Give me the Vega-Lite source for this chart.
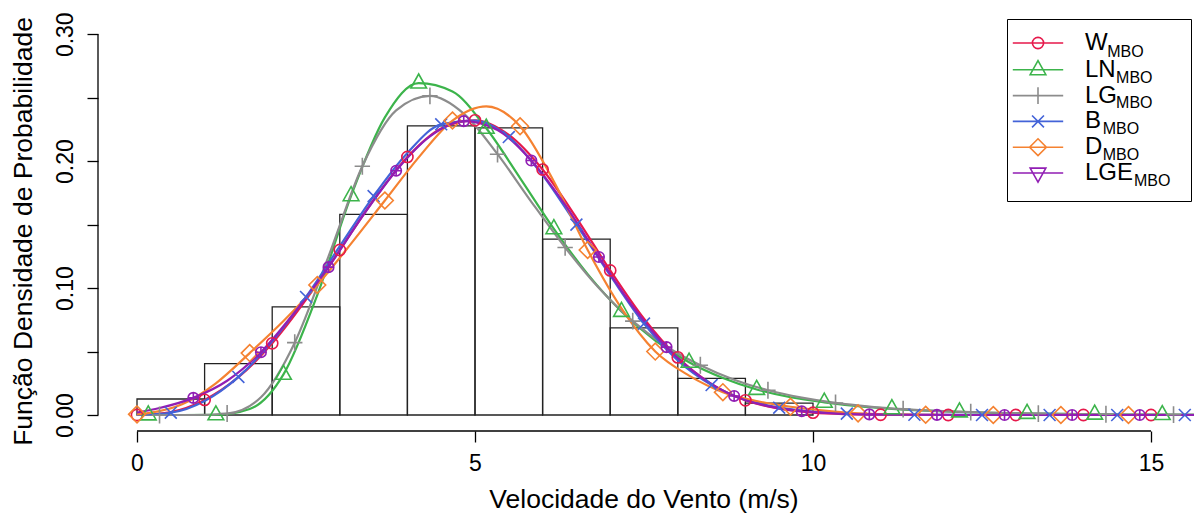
{
  "$schema": "https://vega.github.io/schema/vega-lite/v6.json",
  "width": 1096,
  "height": 412,
  "autosize": {"type": "none"},
  "padding": {"left": 98, "top": 19, "right": 0, "bottom": 88},
  "background": "white",
  "config": {
    "view": {"stroke": null},
    "font": "Liberation Sans",
    "axis": {"labelFont": "Liberation Sans", "titleFont": "Liberation Sans"},
    "legend": {"labelFont": "Liberation Sans", "titleFont": "Liberation Sans"}
  },
  "datasets": {
    "histograma": [
      {"de": 0, "ate": 1, "densidade": 0.0126},
      {"de": 1, "ate": 2, "densidade": 0.0405},
      {"de": 2, "ate": 3, "densidade": 0.0852},
      {"de": 3, "ate": 4, "densidade": 0.158},
      {"de": 4, "ate": 5, "densidade": 0.2278},
      {"de": 5, "ate": 6, "densidade": 0.2263},
      {"de": 6, "ate": 7, "densidade": 0.1386},
      {"de": 7, "ate": 8, "densidade": 0.0687},
      {"de": 8, "ate": 9, "densidade": 0.0289},
      {"de": 9, "ate": 10, "densidade": 0.0093}
    ],
    "curvas": [
      {"serie": "W", "x": 0, "y": 0}, {"serie": "W", "x": 0.5, "y": 0.0024}, {"serie": "W", "x": 1, "y": 0.0119}, {"serie": "W", "x": 1.5, "y": 0.0298}, {"serie": "W", "x": 2, "y": 0.0565}, {"serie": "W", "x": 2.5, "y": 0.0909}, {"serie": "W", "x": 3, "y": 0.13}, {"serie": "W", "x": 3.5, "y": 0.1694}, {"serie": "W", "x": 4, "y": 0.2033}, {"serie": "W", "x": 4.5, "y": 0.2258}, {"serie": "W", "x": 5, "y": 0.2322}, {"serie": "W", "x": 5.5, "y": 0.2207}, {"serie": "W", "x": 6, "y": 0.1934}, {"serie": "W", "x": 6.5, "y": 0.1554}, {"serie": "W", "x": 7, "y": 0.1139}, {"serie": "W", "x": 7.5, "y": 0.0758}, {"serie": "W", "x": 8, "y": 0.0454}, {"serie": "W", "x": 8.5, "y": 0.0243}, {"serie": "W", "x": 9, "y": 0.0116}, {"serie": "W", "x": 9.5, "y": 0.0049}, {"serie": "W", "x": 10, "y": 0.0018}, {"serie": "W", "x": 10.5, "y": 0.0006}, {"serie": "W", "x": 11, "y": 0.0002}, {"serie": "W", "x": 11.5, "y": 0}, {"serie": "W", "x": 12, "y": 0}, {"serie": "W", "x": 16, "y": 0},
      {"serie": "LN", "x": 0, "y": 0}, {"serie": "LN", "x": 0.1667, "y": 0}, {"serie": "LN", "x": 0.6667, "y": 0}, {"serie": "LN", "x": 1.1667, "y": 0.0001}, {"serie": "LN", "x": 1.6667, "y": 0.0047}, {"serie": "LN", "x": 2.1667, "y": 0.032}, {"serie": "LN", "x": 2.6667, "y": 0.0945}, {"serie": "LN", "x": 3.1667, "y": 0.1727}, {"serie": "LN", "x": 3.6667, "y": 0.2345}, {"serie": "LN", "x": 4.1667, "y": 0.2615}, {"serie": "LN", "x": 4.6667, "y": 0.2549}, {"serie": "LN", "x": 5.1667, "y": 0.2259}, {"serie": "LN", "x": 5.6667, "y": 0.1867}, {"serie": "LN", "x": 6.1667, "y": 0.1467}, {"serie": "LN", "x": 6.6667, "y": 0.111}, {"serie": "LN", "x": 7.1667, "y": 0.0816}, {"serie": "LN", "x": 7.6667, "y": 0.0587}, {"serie": "LN", "x": 8.1667, "y": 0.0415}, {"serie": "LN", "x": 8.6667, "y": 0.0291}, {"serie": "LN", "x": 9.1667, "y": 0.0201}, {"serie": "LN", "x": 9.6667, "y": 0.014}, {"serie": "LN", "x": 10.1667, "y": 0.01}, {"serie": "LN", "x": 10.6667, "y": 0.007}, {"serie": "LN", "x": 11.1667, "y": 0.0049}, {"serie": "LN", "x": 11.6667, "y": 0.0034}, {"serie": "LN", "x": 12.1667, "y": 0.0024}, {"serie": "LN", "x": 12.6667, "y": 0.0017}, {"serie": "LN", "x": 13.1667, "y": 0.0012}, {"serie": "LN", "x": 13.6667, "y": 0.0009}, {"serie": "LN", "x": 14.1667, "y": 0.0006}, {"serie": "LN", "x": 14.6667, "y": 0.0004}, {"serie": "LN", "x": 15.1667, "y": 0.0003}, {"serie": "LN", "x": 15.6667, "y": 0.0002}, {"serie": "LN", "x": 16.1667, "y": 0.0001},
      {"serie": "LG", "x": 0, "y": 0}, {"serie": "LG", "x": 0.3333, "y": 0}, {"serie": "LG", "x": 0.8333, "y": 0}, {"serie": "LG", "x": 1.3333, "y": 0.0012}, {"serie": "LG", "x": 1.8333, "y": 0.014}, {"serie": "LG", "x": 2.3333, "y": 0.057}, {"serie": "LG", "x": 2.8333, "y": 0.125}, {"serie": "LG", "x": 3.3333, "y": 0.196}, {"serie": "LG", "x": 3.8333, "y": 0.24}, {"serie": "LG", "x": 4.3333, "y": 0.2515}, {"serie": "LG", "x": 4.8333, "y": 0.2375}, {"serie": "LG", "x": 5.3333, "y": 0.2055}, {"serie": "LG", "x": 5.8333, "y": 0.168}, {"serie": "LG", "x": 6.3333, "y": 0.132}, {"serie": "LG", "x": 6.8333, "y": 0.1}, {"serie": "LG", "x": 7.3333, "y": 0.074}, {"serie": "LG", "x": 7.8333, "y": 0.054}, {"serie": "LG", "x": 8.3333, "y": 0.0392}, {"serie": "LG", "x": 8.8333, "y": 0.0278}, {"serie": "LG", "x": 9.3333, "y": 0.0195}, {"serie": "LG", "x": 9.8333, "y": 0.0137}, {"serie": "LG", "x": 10.3333, "y": 0.0095}, {"serie": "LG", "x": 10.8333, "y": 0.0066}, {"serie": "LG", "x": 11.3333, "y": 0.0046}, {"serie": "LG", "x": 11.8333, "y": 0.0032}, {"serie": "LG", "x": 12.3333, "y": 0.0023}, {"serie": "LG", "x": 12.8333, "y": 0.0016}, {"serie": "LG", "x": 13.3333, "y": 0.0011}, {"serie": "LG", "x": 13.8333, "y": 0.0008}, {"serie": "LG", "x": 14.3333, "y": 0.0006}, {"serie": "LG", "x": 14.8333, "y": 0.0004}, {"serie": "LG", "x": 15.3333, "y": 0.0003}, {"serie": "LG", "x": 15.8333, "y": 0.0002},
      {"serie": "B", "x": 0, "y": 0}, {"serie": "B", "x": 0.5, "y": 0.0018}, {"serie": "B", "x": 1, "y": 0.011}, {"serie": "B", "x": 1.5, "y": 0.03}, {"serie": "B", "x": 2, "y": 0.058}, {"serie": "B", "x": 2.5, "y": 0.093}, {"serie": "B", "x": 3, "y": 0.133}, {"serie": "B", "x": 3.5, "y": 0.1725}, {"serie": "B", "x": 4, "y": 0.2065}, {"serie": "B", "x": 4.5, "y": 0.229}, {"serie": "B", "x": 5, "y": 0.232}, {"serie": "B", "x": 5.5, "y": 0.219}, {"serie": "B", "x": 6, "y": 0.189}, {"serie": "B", "x": 6.5, "y": 0.15}, {"serie": "B", "x": 7, "y": 0.11}, {"serie": "B", "x": 7.5, "y": 0.072}, {"serie": "B", "x": 8, "y": 0.043}, {"serie": "B", "x": 8.5, "y": 0.0236}, {"serie": "B", "x": 9, "y": 0.012}, {"serie": "B", "x": 9.5, "y": 0.0058}, {"serie": "B", "x": 10, "y": 0.0026}, {"serie": "B", "x": 10.5, "y": 0.0011}, {"serie": "B", "x": 11, "y": 0.0005}, {"serie": "B", "x": 11.5, "y": 0.0002}, {"serie": "B", "x": 12, "y": 0.0001}, {"serie": "B", "x": 12.5, "y": 0}, {"serie": "B", "x": 16, "y": 0},
      {"serie": "D", "x": 0, "y": 0.0005}, {"serie": "D", "x": 0.1667, "y": 0.0015}, {"serie": "D", "x": 0.6667, "y": 0.0085}, {"serie": "D", "x": 1.1667, "y": 0.025}, {"serie": "D", "x": 1.6667, "y": 0.0488}, {"serie": "D", "x": 2.1667, "y": 0.074}, {"serie": "D", "x": 2.6667, "y": 0.1024}, {"serie": "D", "x": 3.1667, "y": 0.135}, {"serie": "D", "x": 3.6667, "y": 0.169}, {"serie": "D", "x": 4.1667, "y": 0.203}, {"serie": "D", "x": 4.6667, "y": 0.232}, {"serie": "D", "x": 5.1667, "y": 0.2432}, {"serie": "D", "x": 5.6667, "y": 0.2275}, {"serie": "D", "x": 6.1667, "y": 0.184}, {"serie": "D", "x": 6.6667, "y": 0.13}, {"serie": "D", "x": 7.1667, "y": 0.084}, {"serie": "D", "x": 7.6667, "y": 0.05}, {"serie": "D", "x": 8.1667, "y": 0.031}, {"serie": "D", "x": 8.6667, "y": 0.018}, {"serie": "D", "x": 9.1667, "y": 0.011}, {"serie": "D", "x": 9.6667, "y": 0.0065}, {"serie": "D", "x": 10.1667, "y": 0.0035}, {"serie": "D", "x": 10.6667, "y": 0.0013}, {"serie": "D", "x": 11.1667, "y": 0.0005}, {"serie": "D", "x": 11.6667, "y": 0.0002}, {"serie": "D", "x": 12.1667, "y": 0}, {"serie": "D", "x": 16, "y": 0},
      {"serie": "LGE", "x": 0, "y": 0.002}, {"serie": "LGE", "x": 0.3333, "y": 0.0055}, {"serie": "LGE", "x": 0.8333, "y": 0.0135}, {"serie": "LGE", "x": 1.3333, "y": 0.027}, {"serie": "LGE", "x": 1.8333, "y": 0.0495}, {"serie": "LGE", "x": 2.3333, "y": 0.081}, {"serie": "LGE", "x": 2.8333, "y": 0.1165}, {"serie": "LGE", "x": 3.3333, "y": 0.1565}, {"serie": "LGE", "x": 3.8333, "y": 0.1925}, {"serie": "LGE", "x": 4.3333, "y": 0.2195}, {"serie": "LGE", "x": 4.8333, "y": 0.2315}, {"serie": "LGE", "x": 5.3333, "y": 0.2245}, {"serie": "LGE", "x": 5.8333, "y": 0.2005}, {"serie": "LGE", "x": 6.3333, "y": 0.1655}, {"serie": "LGE", "x": 6.8333, "y": 0.1245}, {"serie": "LGE", "x": 7.3333, "y": 0.0855}, {"serie": "LGE", "x": 7.8333, "y": 0.0535}, {"serie": "LGE", "x": 8.3333, "y": 0.0302}, {"serie": "LGE", "x": 8.8333, "y": 0.015}, {"serie": "LGE", "x": 9.3333, "y": 0.007}, {"serie": "LGE", "x": 9.8333, "y": 0.003}, {"serie": "LGE", "x": 10.3333, "y": 0.0012}, {"serie": "LGE", "x": 10.8333, "y": 0.0005}, {"serie": "LGE", "x": 11.3333, "y": 0.0002}, {"serie": "LGE", "x": 11.8333, "y": 0.0001}, {"serie": "LGE", "x": 12.3333, "y": 0}, {"serie": "LGE", "x": 16, "y": 0}
    ],
    "pontos": [
      {"serie": "W", "x": 0, "y": 0}, {"serie": "W", "x": 1, "y": 0.0119}, {"serie": "W", "x": 2, "y": 0.0565}, {"serie": "W", "x": 3, "y": 0.13}, {"serie": "W", "x": 4, "y": 0.2033}, {"serie": "W", "x": 5, "y": 0.2322}, {"serie": "W", "x": 6, "y": 0.1934}, {"serie": "W", "x": 7, "y": 0.1139}, {"serie": "W", "x": 8, "y": 0.0454}, {"serie": "W", "x": 9, "y": 0.0116}, {"serie": "W", "x": 10, "y": 0.0018}, {"serie": "W", "x": 11, "y": 0.0002}, {"serie": "W", "x": 12, "y": 0}, {"serie": "W", "x": 13, "y": 0}, {"serie": "W", "x": 14, "y": 0}, {"serie": "W", "x": 15, "y": 0},
      {"serie": "LN", "x": 0.1667, "y": 0}, {"serie": "LN", "x": 1.1667, "y": 0.0001}, {"serie": "LN", "x": 2.1667, "y": 0.032}, {"serie": "LN", "x": 3.1667, "y": 0.1727}, {"serie": "LN", "x": 4.1667, "y": 0.2615}, {"serie": "LN", "x": 5.1667, "y": 0.2259}, {"serie": "LN", "x": 6.1667, "y": 0.1467}, {"serie": "LN", "x": 7.1667, "y": 0.0816}, {"serie": "LN", "x": 8.1667, "y": 0.0415}, {"serie": "LN", "x": 9.1667, "y": 0.0201}, {"serie": "LN", "x": 10.1667, "y": 0.01}, {"serie": "LN", "x": 11.1667, "y": 0.0049}, {"serie": "LN", "x": 12.1667, "y": 0.0024}, {"serie": "LN", "x": 13.1667, "y": 0.0012}, {"serie": "LN", "x": 14.1667, "y": 0.0006}, {"serie": "LN", "x": 15.1667, "y": 0.0003},
      {"serie": "LG", "x": 0.3333, "y": 0}, {"serie": "LG", "x": 1.3333, "y": 0.0012}, {"serie": "LG", "x": 2.3333, "y": 0.057}, {"serie": "LG", "x": 3.3333, "y": 0.196}, {"serie": "LG", "x": 4.3333, "y": 0.2515}, {"serie": "LG", "x": 5.3333, "y": 0.2055}, {"serie": "LG", "x": 6.3333, "y": 0.132}, {"serie": "LG", "x": 7.3333, "y": 0.074}, {"serie": "LG", "x": 8.3333, "y": 0.0392}, {"serie": "LG", "x": 9.3333, "y": 0.0195}, {"serie": "LG", "x": 10.3333, "y": 0.0095}, {"serie": "LG", "x": 11.3333, "y": 0.0046}, {"serie": "LG", "x": 12.3333, "y": 0.0023}, {"serie": "LG", "x": 13.3333, "y": 0.0011}, {"serie": "LG", "x": 14.3333, "y": 0.0006}, {"serie": "LG", "x": 15.3333, "y": 0.0003},
      {"serie": "B", "x": 0.5, "y": 0.0018}, {"serie": "B", "x": 1.5, "y": 0.03}, {"serie": "B", "x": 2.5, "y": 0.093}, {"serie": "B", "x": 3.5, "y": 0.1725}, {"serie": "B", "x": 4.5, "y": 0.229}, {"serie": "B", "x": 5.5, "y": 0.219}, {"serie": "B", "x": 6.5, "y": 0.15}, {"serie": "B", "x": 7.5, "y": 0.072}, {"serie": "B", "x": 8.5, "y": 0.0236}, {"serie": "B", "x": 9.5, "y": 0.0058}, {"serie": "B", "x": 10.5, "y": 0.0011}, {"serie": "B", "x": 11.5, "y": 0.0002}, {"serie": "B", "x": 12.5, "y": 0}, {"serie": "B", "x": 13.5, "y": 0}, {"serie": "B", "x": 14.5, "y": 0}, {"serie": "B", "x": 15.5, "y": 0},
      {"serie": "D", "x": 0, "y": 0.0005}, {"serie": "D", "x": 1.6667, "y": 0.0488}, {"serie": "D", "x": 2.6667, "y": 0.1024}, {"serie": "D", "x": 3.6667, "y": 0.169}, {"serie": "D", "x": 4.6667, "y": 0.232}, {"serie": "D", "x": 5.6667, "y": 0.2275}, {"serie": "D", "x": 6.6667, "y": 0.13}, {"serie": "D", "x": 7.6667, "y": 0.05}, {"serie": "D", "x": 8.6667, "y": 0.018}, {"serie": "D", "x": 9.6667, "y": 0.0065}, {"serie": "D", "x": 10.6667, "y": 0.0013}, {"serie": "D", "x": 11.6667, "y": 0.0002}, {"serie": "D", "x": 12.6667, "y": 0}, {"serie": "D", "x": 13.6667, "y": 0}, {"serie": "D", "x": 14.6667, "y": 0},
      {"serie": "LGE", "x": 0.8333, "y": 0.0135}, {"serie": "LGE", "x": 1.8333, "y": 0.0495}, {"serie": "LGE", "x": 2.8333, "y": 0.1165}, {"serie": "LGE", "x": 3.8333, "y": 0.1925}, {"serie": "LGE", "x": 4.8333, "y": 0.2315}, {"serie": "LGE", "x": 5.8333, "y": 0.2005}, {"serie": "LGE", "x": 6.8333, "y": 0.1245}, {"serie": "LGE", "x": 7.8333, "y": 0.0535}, {"serie": "LGE", "x": 8.8333, "y": 0.015}, {"serie": "LGE", "x": 9.8333, "y": 0.003}, {"serie": "LGE", "x": 10.8333, "y": 0.0005}, {"serie": "LGE", "x": 11.8333, "y": 0.0001}, {"serie": "LGE", "x": 12.8333, "y": 0}, {"serie": "LGE", "x": 13.8333, "y": 0}, {"serie": "LGE", "x": 14.8333, "y": 0}
    ]
  },
  "layer": [
    {
      "data": {"name": "histograma"},
      "mark": {"type": "rect", "fill": "transparent", "stroke": "#222222", "strokeWidth": 1.3},
      "encoding": {
        "x": {
          "field": "de", "type": "quantitative",
          "scale": {"domain": [-0.577, 15.636], "nice": false, "zero": false},
          "axis": {
            "values": [0, 5, 10, 15], "domain": false, "grid": false,
            "tickSize": 11, "tickWidth": 1.3, "tickColor": "black",
            "labelFontSize": 23, "labelColor": "black", "labelBaseline": "alphabetic",
            "labelPadding": 28, "labelFlush": false, "labelOverlap": false, "format": "d",
            "title": "Velocidade do Vento (m/s)", "titleFontSize": 26.5, "titleFontWeight": "normal",
            "titleColor": "black", "titleX": 545.5, "titleY": 76, "titleBaseline": "alphabetic", "titleAlign": "center"
          }
        },
        "x2": {"field": "ate"},
        "y": {
          "field": "densidade", "type": "quantitative",
          "scale": {"domain": [-0.0126, 0.312], "nice": false, "zero": false},
          "axis": {
            "values": [0, 0.05, 0.1, 0.15, 0.2, 0.25, 0.3], "domain": false, "grid": false,
            "tickSize": 11, "tickWidth": 1.3, "tickColor": "black",
            "labelFontSize": 23, "labelColor": "black", "labelAngle": 270, "labelAlign": "center",
            "labelBaseline": "alphabetic", "labelPadding": 15, "format": ".2f",
            "labelExpr": "indexof(['0.00','0.10','0.20','0.30'], datum.label) >= 0 ? datum.label : ''",
            "labelOverlap": false, "labelFlush": false,
            "title": "Função Densidade de Probabilidade", "titleFontSize": 26.5, "titleFontWeight": "normal",
            "titleColor": "black", "titleAngle": 270, "titleX": -67, "titleY": 212,
            "titleBaseline": "alphabetic", "titleAlign": "center"
          }
        },
        "y2": {"datum": 0}
      }
    },
    {
      "data": {"values": [{}]},
      "mark": {"type": "rule", "color": "black", "strokeWidth": 1.3},
      "encoding": {
        "x": {"datum": 0, "type": "quantitative"},
        "x2": {"datum": 15},
        "y": {"datum": -0.0126, "type": "quantitative"}
      }
    },
    {
      "data": {"values": [{}]},
      "mark": {"type": "rule", "color": "black", "strokeWidth": 1.3},
      "encoding": {
        "x": {"datum": -0.577, "type": "quantitative"},
        "y": {"datum": 0, "type": "quantitative"},
        "y2": {"datum": 0.3}
      }
    },
    {
      "data": {"name": "curvas"},
      "mark": {"type": "line", "strokeWidth": 2.2, "interpolate": "monotone", "clip": true},
      "encoding": {
        "x": {"field": "x", "type": "quantitative"},
        "y": {"field": "y", "type": "quantitative"},
        "color": {
          "field": "serie", "type": "nominal",
          "scale": {"domain": ["W", "LN", "LG", "B", "D", "LGE"], "range": ["#e6194b", "#3cb44b", "#8c8c8c", "#4363d8", "#f58231", "#911eb4"]},
          "legend": null
        }
      }
    },
    {
      "data": {"name": "pontos"},
      "mark": {"type": "point", "filled": false, "strokeWidth": 1.6, "size": 196, "opacity": 1, "clip": true},
      "encoding": {
        "x": {"field": "x", "type": "quantitative"},
        "y": {"field": "y", "type": "quantitative"},
        "color": {
          "field": "serie", "type": "nominal",
          "scale": {"domain": ["W", "LN", "LG", "B", "D", "LGE"], "range": ["#e6194b", "#3cb44b", "#8c8c8c", "#4363d8", "#f58231", "#911eb4"]},
          "legend": null
        },
        "shape": {
          "field": "serie", "type": "nominal",
          "scale": {
            "domain": ["W", "LN", "LG", "B", "D", "LGE"],
            "range": [
              "M-0.8,0A0.8,0.8 0 1,1 0.8,0A0.8,0.8 0 1,1 -0.8,0Z",
              "M0,-1.3L1.12,0.7L-1.12,0.7Z",
              "M-1.1,0H1.1M0,-1.2V1.2",
              "M-0.85,-0.85L0.85,0.85M-0.85,0.85L0.85,-0.85",
              "M0,-1.2L1.2,0L0,1.2L-1.2,0Z",
              "M-0.75,0A0.75,0.75 0 1,1 0.75,0A0.75,0.75 0 1,1 -0.75,0ZM-0.75,0H0.75M0,-0.75V0.75"
            ]
          },
          "legend": null
        }
      }
    },
    {
      "data": {"name": "pontos"},
      "transform": [{"filter": "false"}],
      "mark": {"type": "point", "filled": false, "strokeWidth": 1.6, "size": 196, "opacity": 1},
      "encoding": {
        "x": {"field": "x", "type": "quantitative"},
        "y": {"field": "y", "type": "quantitative"},
        "stroke": {
          "field": "serie", "type": "nominal",
          "scale": {"domain": ["W", "LN", "LG", "B", "D", "LGE"], "range": ["#e6194b", "#3cb44b", "#8c8c8c", "#4363d8", "#f58231", "#911eb4"]},
          "legend": {
            "orient": "none", "legendX": 928, "legendY": 12, "padding": 0, "title": null,
            "labelFontSize": 24, "labelColor": "black", "labelOffset": 35, "rowPadding": 1.8,
            "symbolSize": 196, "symbolStrokeWidth": 1.6, "symbolFillColor": "transparent"
          }
        },
        "shape": {
          "field": "serie", "type": "nominal",
          "scale": {
            "domain": ["W", "LN", "LG", "B", "D", "LGE"],
            "range": [
              "M-3.6,0H3.6M-0.8,0A0.8,0.8 0 1,1 0.8,0A0.8,0.8 0 1,1 -0.8,0Z",
              "M-3.6,0H3.6M0,-1.3L1.12,0.7L-1.12,0.7Z",
              "M-3.6,0H3.6M0,-1.2V1.2",
              "M-3.6,0H3.6M-0.85,-0.85L0.85,0.85M-0.85,0.85L0.85,-0.85",
              "M-3.6,0H3.6M0,-1.2L1.2,0L0,1.2L-1.2,0Z",
              "M-3.6,0H3.6M-1.12,-0.7L1.12,-0.7L0,1.3Z"
            ]
          },
          "legend": {
            "orient": "none", "legendX": 928, "legendY": 12, "padding": 0, "title": null,
            "labelFontSize": 24, "labelColor": "black", "labelOffset": 35, "rowPadding": 1.8,
            "symbolSize": 196, "symbolStrokeWidth": 1.6, "symbolFillColor": "transparent"
          }
        }
      }
    },
    {
      "data": {"name": "pontos"},
      "transform": [{"filter": "false"}],
      "mark": {"type": "point", "filled": true, "opacity": 1},
      "encoding": {
        "x": {"field": "x", "type": "quantitative"},
        "y": {"field": "y", "type": "quantitative"},
        "fill": {
          "field": "serie", "type": "nominal",
          "scale": {"domain": ["W", "LN", "LG", "B", "D", "LGE"], "range": ["#e6194b", "#3cb44b", "#8c8c8c", "#4363d8", "#f58231", "#911eb4"]},
          "legend": {
            "orient": "none", "legendX": 909, "legendY": 0, "padding": 11,
            "title": "\u200b", "titleFontSize": 4, "titlePadding": 1.6,
            "strokeColor": "black",
            "labelFontSize": 16, "labelColor": "black", "labelBaseline": "top", "labelOffset": 51, "rowPadding": 1.9,
            "symbolSize": 0, "symbolOpacity": 0, "symbolStrokeWidth": 0,
            "labelExpr": "datum.label == 'W' ? '\u200b\u00a0\u00a0\u00a0\u00a0\u00a0MBO' : datum.label == 'LN' ? '\u200b\u00a0\u00a0\u00a0\u00a0\u00a0\u00a0\u00a0MBO' : datum.label == 'LG' ? '\u200b\u00a0\u00a0\u00a0\u00a0\u00a0\u00a0\u00a0MBO' : datum.label == 'B' ? '\u200b\u00a0\u00a0\u00a0\u00a0MBO' : datum.label == 'D' ? '\u200b\u00a0\u00a0\u00a0\u00a0MBO' : '\u200b\u00a0\u00a0\u00a0\u00a0\u00a0\u00a0\u00a0\u00a0\u00a0\u00a0\u00a0MBO\u00a0\u00a0\u200b'"
          }
        }
      }
    }
  ],
  "resolve": {"scale": {"shape": "independent", "stroke": "independent", "fill": "independent"}}
}
